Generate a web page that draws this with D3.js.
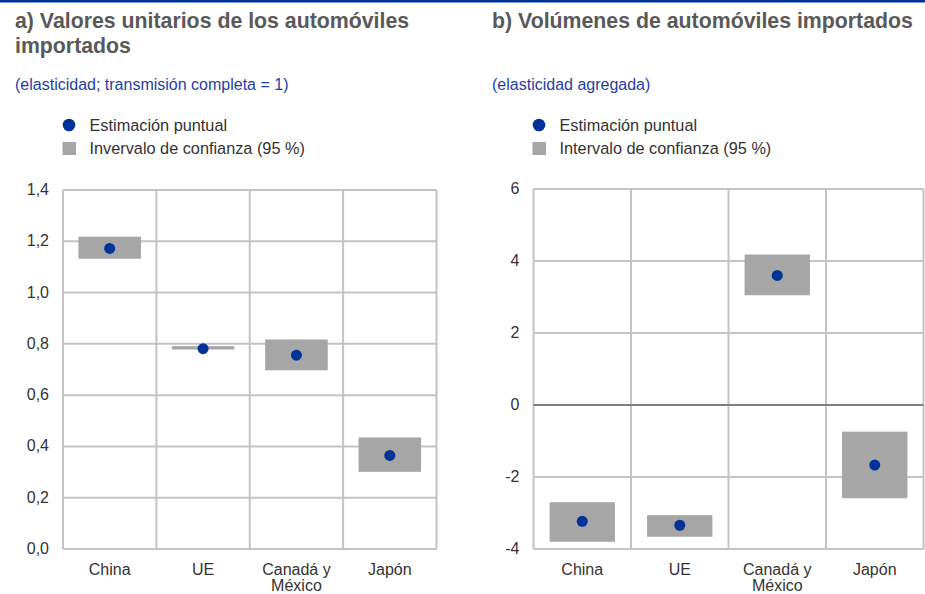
<!DOCTYPE html>
<html>
<head>
<meta charset="utf-8">
<script src="https://cdn.jsdelivr.net/npm/d3@7"></script>
<style>
  body { margin: 0; background: #fff; }
  svg { font-family: "Liberation Sans", Arial, sans-serif; }
</style>
</head>
<body>
<svg id="chart" width="925" height="594"></svg>
<script>
// categories shared by both panels
var categories = ["China", "UE", "Canadá y\nMéxico", "Japón"];

// panel a) unit values
var valuesPoint = [1.172, 0.781, 0.756, 0.365];
var valuesLow   = [1.132, 0.778, 0.697, 0.301];
var valuesHigh  = [1.218, 0.791, 0.817, 0.435];
var valuesTicks = [0, 0.2, 0.4, 0.6, 0.8, 1.0, 1.2, 1.4];

// panel b) volumes
var volumesPoint = [-3.23, -3.34, 3.60, -1.67];
var volumesLow   = [-3.80, -3.66, 3.05, -2.59];
var volumesHigh  = [-2.70, -3.06, 4.18, -0.74];
var volumesTicks = [-4, -2, 0, 2, 4, 6];

var svg = d3.select("#chart");

// top rule
svg.append("rect").attr("x", 0).attr("y", 0).attr("width", 925).attr("height", 2.5).attr("fill", "#003399");

var gridColor = "#c3c3c3";
var pointColor = "#003399";
var boxColor = "#a6a6a6";

function drawPanel(opt) {
    var g = svg.append("g");

    // title lines
    opt.title.forEach(function (t, i) {
        g.append("text")
            .attr("x", opt.titleX).attr("y", 28 + i * 25)
            .attr("font-size", 21.3).attr("font-weight", "bold")
            .attr("fill", "#595959")
            .text(t);
    });

    g.append("text")
        .attr("x", opt.titleX).attr("y", 90)
        .attr("font-size", 16).attr("fill", "#1f3f9f")
        .text(opt.subtitle);

    // legend
    g.append("circle").attr("cx", opt.legendX + 6.5).attr("cy", 125).attr("r", 6.3).attr("fill", pointColor);
    g.append("text").attr("x", opt.legendX + 27).attr("y", 130.5)
        .attr("font-size", 16.3).attr("fill", "#333").text("Estimación puntual");
    g.append("rect").attr("x", opt.legendX).attr("y", 142).attr("width", 13.5).attr("height", 13).attr("fill", boxColor);
    g.append("text").attr("x", opt.legendX + 27).attr("y", 153.5)
        .attr("font-size", 16.3).attr("fill", "#333").text(opt.legend2);

    var x = d3.scaleBand().domain(d3.range(categories.length)).range([opt.left, opt.right]);
    var y = d3.scaleLinear().domain(opt.domain).range([opt.bottom, opt.top]);

    // horizontal grid
    g.append("g").selectAll("line").data(opt.ticks).enter().append("line")
        .attr("x1", opt.left).attr("x2", opt.right)
        .attr("y1", function (d) { return y(d); }).attr("y2", function (d) { return y(d); })
        .attr("stroke", gridColor)
        .attr("stroke-width", 2);

    // vertical grid (band edges)
    var edges = d3.range(categories.length + 1).map(function (i) {
        return i < categories.length ? x(i) : opt.right;
    });
    g.append("g").selectAll("line").data(edges).enter().append("line")
        .attr("x1", function (d) { return d; }).attr("x2", function (d) { return d; })
        .attr("y1", opt.top).attr("y2", opt.bottom)
        .attr("stroke", gridColor).attr("stroke-width", 2);

    // zero line on top of grid
    if (opt.zeroLine) {
        g.append("line").attr("x1", opt.left).attr("x2", opt.right)
            .attr("y1", y(0)).attr("y2", y(0))
            .attr("stroke", "#7f7f7f").attr("stroke-width", 2);
    }

    // y tick labels
    g.append("g").selectAll("text").data(opt.ticks).enter().append("text")
        .attr("x", opt.left - 14).attr("y", function (d) { return y(d) + 5; })
        .attr("text-anchor", "end").attr("font-size", 16).attr("fill", "#333")
        .text(opt.fmt);

    // category labels
    var cat = g.append("g").selectAll("text").data(categories).enter().append("text")
        .attr("x", function (d, i) { return x(i) + x.bandwidth() / 2; })
        .attr("y", 575)
        .attr("text-anchor", "middle").attr("font-size", 16).attr("fill", "#333");
    cat.each(function (d) {
        var t = d3.select(this);
        d.split("\n").forEach(function (s, j) {
            t.append("tspan").attr("x", t.attr("x")).attr("dy", j === 0 ? 0 : 16).text(s);
        });
    });

    // confidence boxes
    var bw = x.bandwidth() * 0.67;
    g.append("g").selectAll("rect").data(opt.low).enter().append("rect")
        .attr("x", function (d, i) { return x(i) + (x.bandwidth() - bw) / 2; })
        .attr("y", function (d, i) { return y(opt.high[i]); })
        .attr("width", bw)
        .attr("height", function (d, i) { return y(d) - y(opt.high[i]); })
        .attr("fill", boxColor);

    // point estimates
    g.append("g").selectAll("circle").data(opt.point).enter().append("circle")
        .attr("cx", function (d, i) { return x(i) + x.bandwidth() / 2; })
        .attr("cy", function (d) { return y(d); })
        .attr("r", 5.5)
        .attr("fill", pointColor);
}

var commaFmt = function (d) { return d3.format(".1f")(d).replace(".", ","); };

drawPanel({
    title: ["a) Valores unitarios de los automóviles", "importados"],
    titleX: 15,
    subtitle: "(elasticidad; transmisión completa = 1)",
    legendX: 62.5,
    legend2: "Invervalo  de confianza (95 %)",
    left: 63, right: 436.5, top: 190, bottom: 549,
    domain: [0, 1.4], ticks: valuesTicks,
    point: valuesPoint, low: valuesLow, high: valuesHigh,
    fmt: commaFmt, zeroLine: false
});

drawPanel({
    title: ["b) Volúmenes de automóviles importados"],
    titleX: 492,
    subtitle: "(elasticidad agregada)",
    legendX: 532.5,
    legend2: "Intervalo de confianza (95 %)",
    left: 533.5, right: 923.5, top: 189, bottom: 549,
    domain: [-4, 6], ticks: volumesTicks,
    point: volumesPoint, low: volumesLow, high: volumesHigh,
    fmt: function (d) { return String(d); }, zeroLine: true
});
</script>
</body>
</html>
